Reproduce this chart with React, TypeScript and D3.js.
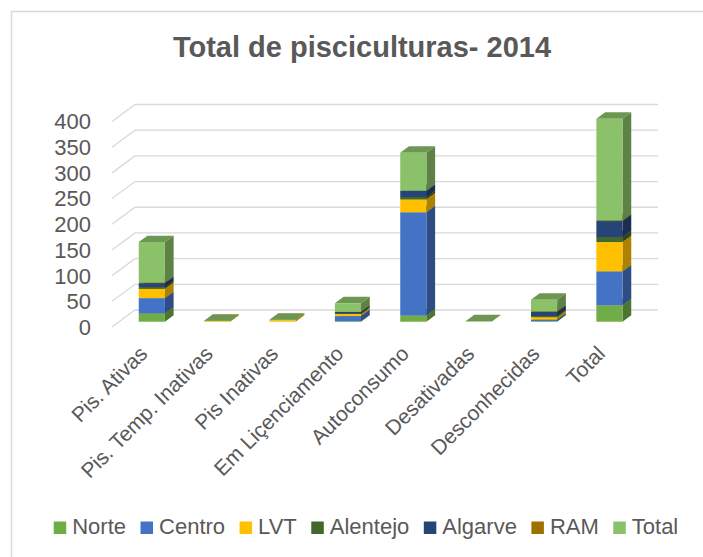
import React, { useEffect, useRef } from "react";
import * as d3 from "d3";

const categories = [
  "Pis. Ativas",
  "Pis. Temp. Inativas",
  "Pis Inativas",
  "Em Liçenciamento",
  "Autoconsumo",
  "Desativadas",
  "Desconhecidas",
  "Total",
];

const seriesNames = ["Norte", "Centro", "LVT", "Alentejo", "Algarve", "RAM", "Total"];

// values per category, in category order
const norte = [16, 0, 0, 1, 12, 0, 1, 32];
const centro = [30, 0, 0, 10, 201, 0, 3, 66];
const lvt = [18, 1, 3, 4, 25, 0, 5, 57];
const alentejo = [3, 0, 0, 1, 5, 0, 2, 10];
const algarve = [8, 0, 0, 3, 12, 0, 8, 31];
const ram = [1, 0, 0, 0, 0, 0, 1, 1];
const total = [79, 1, 1, 17, 74, 1, 23, 198];

const yTicks = [0, 50, 100, 150, 200, 250, 300, 350, 400];

const colors = ["#70AD47", "#4472C4", "#FFC000", "#43682B", "#264478", "#9E7100", "#8BC168"];

const App = () => {
  const ref = useRef<SVGSVGElement>(null);

  useEffect(() => {
    const svg = d3.select(ref.current);
    svg.selectAll("*").remove();

    const width = 703;
    const height = 557;
    const font = "'Liberation Sans', Arial, sans-serif";
    const textColor = "#595959";

    svg.append("rect").attr("width", width).attr("height", height).attr("fill", "#fff");
    svg
      .append("rect")
      .attr("x", 11.5)
      .attr("y", 11.5)
      .attr("width", 720)
      .attr("height", 600)
      .attr("fill", "none")
      .attr("stroke", "#d9d9d9")
      .attr("stroke-width", 1.5);

    // title
    svg
      .append("text")
      .attr("x", 362)
      .attr("y", 57)
      .attr("text-anchor", "middle")
      .attr("font-family", font)
      .attr("font-weight", "bold")
      .attr("font-size", 29)
      .attr("fill", textColor)
      .text("Total de pisciculturas- 2014");

    // 3d projection
    const depthX = 23;
    const depthY = 17;
    const x = d3
      .scaleBand()
      .domain(categories)
      .range([112, 635])
      .paddingInner(0.6)
      .paddingOuter(0.3);
    const y = d3.scaleLinear().domain([0, 400]).range([327, 121.5]);
    const proj = (px: number, v: number, d: number): [number, number] => [
      px + depthX * d,
      y(v) - depthY * d,
    ];

    // gridlines
    const grid = svg.append("g");
    yTicks.forEach((t) => {
      const a = proj(112, t, 0);
      const b = proj(112, t, 1);
      const c = proj(635, t, 1);
      grid
        .append("path")
        .attr("d", `M${a[0]},${a[1]}L${b[0]},${b[1]}L${c[0]},${c[1]}`)
        .attr("fill", "none")
        .attr("stroke", "#d9d9d9")
        .attr("stroke-width", 1.3);
      grid
        .append("text")
        .attr("x", 91)
        .attr("y", a[1])
        .attr("dy", "0.36em")
        .attr("text-anchor", "end")
        .attr("font-family", font)
        .attr("font-size", 22)
        .attr("fill", textColor)
        .text(t);
    });

    // stacked bars
    const seriesValues = [norte, centro, lvt, alentejo, algarve, ram, total];
    const rows = categories.map((c, i) => {
      const row: any = { category: c };
      seriesNames.forEach((s, j) => (row[s] = seriesValues[j][i]));
      return row;
    });
    const stacked = d3.stack().keys(seriesNames)(rows);

    const d0 = 0.31;
    const d1 = 0.69;
    const poly = (pts: [number, number][]) => "M" + pts.map((p) => p.join(",")).join("L") + "Z";
    const bars = svg.append("g");
    categories.forEach((c, i) => {
      const x0 = x(c)!;
      const x1 = x0 + x.bandwidth();
      stacked.forEach((layer, j) => {
        const [lo, hi] = layer[i];
        if (hi - lo <= 0) return;
        const base = d3.color(colors[j])!;
        const side = base.darker(1.1).formatHex();
        const top = base.darker(0.7).formatHex();
        bars
          .append("path")
          .attr("d", poly([proj(x1, lo, d0), proj(x1, lo, d1), proj(x1, hi, d1), proj(x1, hi, d0)]))
          .attr("fill", side);
        bars
          .append("path")
          .attr("d", poly([proj(x0, hi, d0), proj(x1, hi, d0), proj(x1, hi, d1), proj(x0, hi, d1)]))
          .attr("fill", top);
        bars
          .append("path")
          .attr("d", poly([proj(x0, lo, d0), proj(x1, lo, d0), proj(x1, hi, d0), proj(x0, hi, d0)]))
          .attr("fill", colors[j]);
      });
    });

    // category labels
    categories.forEach((c) => {
      const cx = x(c)! + x.bandwidth() / 2 + 4;
      const cy = 355;
      svg
        .append("text")
        .attr("transform", `translate(${cx},${cy}) rotate(-45)`)
        .attr("text-anchor", "end")
        .attr("font-family", font)
        .attr("font-size", 21)
        .attr("fill", textColor)
        .text(c);
    });

    // legend
    const legend = svg.append("g");
    const sw = 12.5;
    const gapIn = 6;
    const gapOut = 14.5;
    let cursor = 0;
    seriesNames.forEach((s, j) => {
      const g = legend.append("g").attr("transform", `translate(${cursor},0)`);
      g.append("rect").attr("x", 0).attr("y", -12.5).attr("width", sw).attr("height", sw).attr("fill", colors[j]);
      const t = g
        .append("text")
        .attr("x", sw + gapIn)
        .attr("y", 0)
        .attr("font-family", font)
        .attr("font-size", 22)
        .attr("fill", textColor)
        .text(s);
      const w = (t.node() as SVGTextElement).getComputedTextLength();
      cursor += sw + gapIn + w + gapOut;
    });
    const legendWidth = cursor - gapOut;
    legend.attr("transform", `translate(${366 - legendWidth / 2},534)`);
  }, []);

  return (
    <svg
      ref={ref}
      width={703}
      height={557}
      style={{ position: "absolute", left: 0, top: 0 }}
    />
  );
};

export default App;
